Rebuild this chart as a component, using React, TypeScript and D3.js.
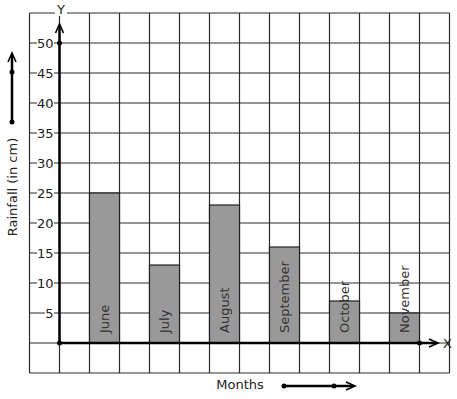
import React from 'react';
import * as d3 from 'd3';

const months = ['June', 'July', 'August', 'September', 'October', 'November'];
const rainfall = [25, 13, 23, 16, 7, 5];
const yTicks = [5, 10, 15, 20, 25, 30, 35, 40, 45, 50];

const W = 457;
const H = 399;
const FONT = 'DejaVu Sans, sans-serif';

const App = () => {
  // grid: 14 columns x 12 rows of 30px
  const col = d3.scaleLinear().domain([0, 14]).range([29.5, 449.5]);
  const y = d3.scaleLinear().domain([-5, 55]).range([373, 13]);
  const x0 = col(1);
  const y0 = y(0);

  const vLines = d3.range(0, 15);
  const hLines = d3.range(-5, 60, 5);

  return (
    <svg width={W} height={H} style={{ position: 'absolute', left: 0, top: 0, background: '#fff' }}>
      {/* grid */}
      <g stroke="#2b2b2b" strokeWidth={1.2}>
        {vLines.map(i => (
          <line key={'v' + i} x1={col(i)} x2={col(i)} y1={y(55)} y2={y(-5)} />
        ))}
        {hLines.map(v => (
          <line key={'h' + v} x1={col(0)} x2={col(14)} y1={y(v)} y2={y(v)} />
        ))}
      </g>

      {/* bars */}
      {months.map((m, i) => {
        const left = col(2 + i * 2);
        const right = col(3 + i * 2);
        return (
          <g key={m}>
            <rect x={left} y={y(rainfall[i])} width={right - left} height={y0 - y(rainfall[i])}
              fill="#999" stroke="#222" strokeWidth={1.2} />
            <text transform={`translate(${(left + right) / 2 + 4.5},${y0 - 10}) rotate(-90)`}
              fontFamily={FONT} fontSize={13} fill="#333">{m}</text>
          </g>
        );
      })}

      {/* y tick labels */}
      {yTicks.map(t => (
        <g key={t}>
          <rect x={t < 10 ? 45 : 37} y={y(t) - 6} width={t < 10 ? 9 : 17} height={12} fill="#fff" />
          <text x={53.5} y={y(t) + 4.5} textAnchor="end" fontFamily={FONT} fontSize={13} fill="#222">{t}</text>
        </g>
      ))}

      {/* axes */}
      <g stroke="#000" strokeWidth={2.5} fill="none">
        <line x1={x0} x2={x0} y1={y0} y2={25} />
        <path d={`M${x0 - 4},${33} L${x0},${24} L${x0 + 4},${33}`} strokeWidth={1.6} />
        <line x1={x0} x2={437} y1={y0} y2={y0} />
        <path d={`M${429},${y0 - 4} L${438},${y0} L${429},${y0 + 4}`} strokeWidth={1.6} />
      </g>
      <circle cx={x0} cy={y0} r={2.5} fill="#000" />
      <circle cx={x0} cy={y(50)} r={2.5} fill="#000" />
      <circle cx={col(13)} cy={y0} r={2.5} fill="#000" />

      <rect x={55} y={3} width={12} height={13} fill="#fff" />
      <text x={61} y={14} textAnchor="middle" fontFamily={FONT} fontSize={13} fill="#222">Y</text>
      <text x={443} y={y0 + 5} fontFamily={FONT} fontSize={13} fill="#222">X</text>

      {/* y axis title with arrow */}
      <g stroke="#000" strokeWidth={2.5} fill="none">
        <line x1={12} x2={12} y1={122} y2={55} />
        <path d="M8,62 L12,53 L16,62" strokeWidth={1.6} />
      </g>
      <circle cx={12} cy={72} r={2.5} fill="#000" />
      <circle cx={12} cy={122} r={2.5} fill="#000" />
      <text transform="translate(17,187) rotate(-90)" textAnchor="middle" fontFamily={FONT} fontSize={13} fill="#222">
        Rainfall (in cm)
      </text>

      {/* x axis title with arrow */}
      <text x={240} y={389} textAnchor="middle" fontFamily={FONT} fontSize={13} fill="#222">Months</text>
      <g stroke="#000" strokeWidth={2.5} fill="none">
        <line x1={284} x2={353} y1={386} y2={386} />
        <path d="M346,382 L355,386 L346,390" strokeWidth={1.6} />
      </g>
      <circle cx={284} cy={386} r={2.5} fill="#000" />
      <circle cx={334} cy={386} r={2.5} fill="#000" />
    </svg>
  );
};

export default App;
